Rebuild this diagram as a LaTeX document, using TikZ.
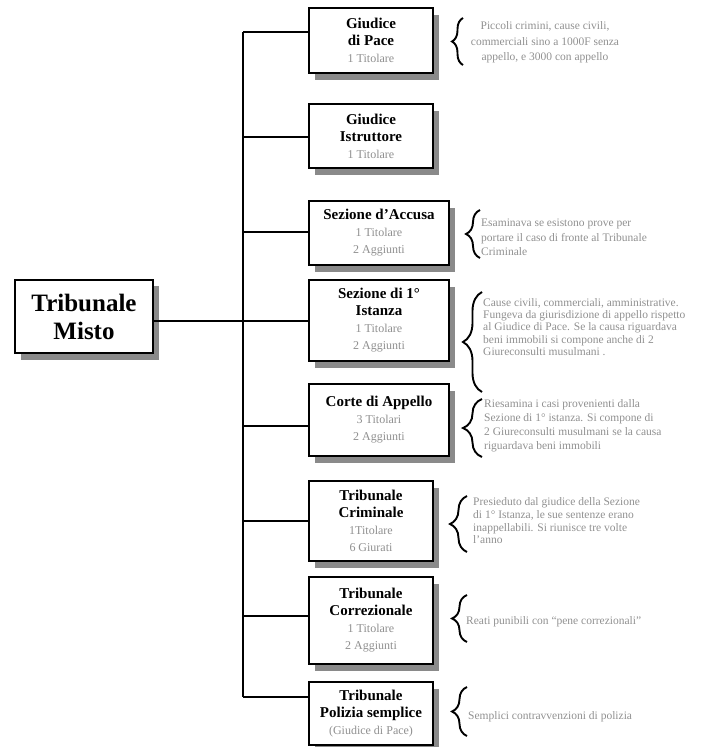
\documentclass[tikz,border=0pt]{standalone}
\usepackage{fontspec}
\setmainfont{Liberation Serif}
\usetikzlibrary{shadows,decorations.pathreplacing}
\definecolor{note}{HTML}{909090}
\definecolor{shade}{HTML}{8A8A8A}
\newcommand\staff[1]{{\fontsize{12}{14}\selectfont\mdseries\color{note}#1}}
\begin{document}
\begin{tikzpicture}[x=1pt,y=-1pt,
  court/.style={draw=black, line width=1.3pt, fill=white, align=center, inner sep=0pt,
    drop shadow={shadow xshift=6pt, shadow yshift=-7pt, fill=shade, opacity=1},
    font=\fontsize{15}{17}\selectfont\bfseries},
  wire/.style={draw=black, line width=1.3pt},
  curly/.style={draw=black, line width=1.9pt, decorate,
    decoration={brace, amplitude=#1}},
  remark/.style={text=note, inner sep=0pt, font=\fontsize{11.5}{#1}\selectfont},
]
\useasboundingbox (0,0) rectangle (702,747);

% bus and junction points
\coordinate (j1) at (243,32);
\coordinate (j2) at (243,137);
\coordinate (j3) at (243,232);
\coordinate (j4) at (243,321);
\coordinate (j5) at (243,426);
\coordinate (j6) at (243,521);
\coordinate (j7) at (243,616);
\coordinate (j8) at (243,697);

% main court
\node[court, minimum width=138pt, minimum height=73pt,
  font=\fontsize{25}{28}\selectfont\bfseries,
  drop shadow={shadow xshift=6pt, shadow yshift=-6pt, fill=shade, opacity=1}]
  (main) at (84,316.5) {Tribunale\\Misto};

% sections
\node[court, minimum width=124pt, minimum height=65pt] (b1) at (371,40.5)
  {Giudice\\di Pace\\\staff{1 Titolare}};
\node[court, minimum width=124pt, minimum height=64pt] (b2) at (371,136)
  {Giudice\\Istruttore\\\staff{1 Titolare}};
\node[court, minimum width=140pt, minimum height=64pt] (b3) at (379,233)
  {Sezione d'Accusa\\\staff{1 Titolare}\\\staff{2 Aggiunti}};
\node[court, minimum width=140pt, minimum height=81pt] (b4) at (379,320.5)
  {Sezione di 1°\\Istanza\\\staff{1 Titolare}\\\staff{2 Aggiunti}};
\node[court, minimum width=140pt, minimum height=72pt] (b5) at (379,420)
  {Corte di Appello\\\staff{3 Titolari}\\\staff{2 Aggiunti}};
\node[court, minimum width=124pt, minimum height=80pt] (b6) at (371,521)
  {Tribunale\\Criminale\\\staff{1Titolare}\\\staff{6 Giurati}};
\node[court, minimum width=124pt, minimum height=87pt] (b7) at (371,620.5)
  {Tribunale\\Correzionale\\\staff{1 Titolare}\\\staff{2 Aggiunti}};
\node[court, minimum width=124pt, minimum height=63pt] (b8) at (371,713.5)
  {Tribunale\\Polizia semplice\\\staff{(Giudice di Pace)}};

% connectors
\draw[wire] (j1) -- (j8);
\draw[wire] (main.east |- j4) -- (j4 -| b4.west);
\draw[wire] (j1) -- (j1 -| b1.west);
\draw[wire] (j2) -- (j2 -| b2.west);
\draw[wire] (j3) -- (j3 -| b3.west);
\draw[wire] (j5) -- (j5 -| b5.west);
\draw[wire] (j6) -- (j6 -| b6.west);
\draw[wire] (j7) -- (j7 -| b7.west);
\draw[wire] (j8) -- (j8 -| b8.west);

% braces
\draw[curly=11pt] (463,65) -- (463,18);
\draw[curly=14pt] (480,258) -- (480,210);
\draw[curly=19pt] (482,392) -- (482,292);
\draw[curly=19pt] (482,457) -- (482,399);
\draw[curly=17pt] (467,552) -- (467,496);
\draw[curly=15pt] (467,642) -- (467,595);
\draw[curly=15pt] (467,736) -- (467,687);

% remarks
\node[remark=15.5, align=center] (r1) at (545,42.5)
  {Piccoli crimini, cause civili,\\commerciali sino a 1000F senza\\appello, e 3000 con appello};
\node[remark=14.5, align=left, anchor=west] (r3) at (481,237.5)
  {Esaminava se esistono prove per\\portare il caso di fronte al Tribunale\\Criminale};
\node[remark=12.2, align=left, anchor=west] (r4) at (483,327)
  {Cause civili, commerciali, amministrative.\\Fungeva da giurisdizione di appello rispetto\\al Giudice di Pace. Se la causa riguardava\\beni immobili si compone anche di 2\\Giureconsulti musulmani .};
\node[remark=14, align=left, anchor=west] (r5) at (484,426)
  {Riesamina i casi provenienti dalla\\Sezione di 1° istanza. Si compone di\\2 Giureconsulti musulmani se la causa\\riguardava beni immobili};
\node[remark=12.7, align=left, anchor=west] (r6) at (473,521)
  {Presieduto dal giudice della Sezione\\di 1° Istanza, le sue sentenze erano\\inappellabili. Si riunisce tre volte\\l'anno};
\node[remark=13, anchor=west] (r7) at (466,622)
  {Reati punibili con ``pene correzionali''};
\node[remark=13, anchor=west] (r8) at (468,717)
  {Semplici contravvenzioni di polizia};
\end{tikzpicture}
\end{document}
